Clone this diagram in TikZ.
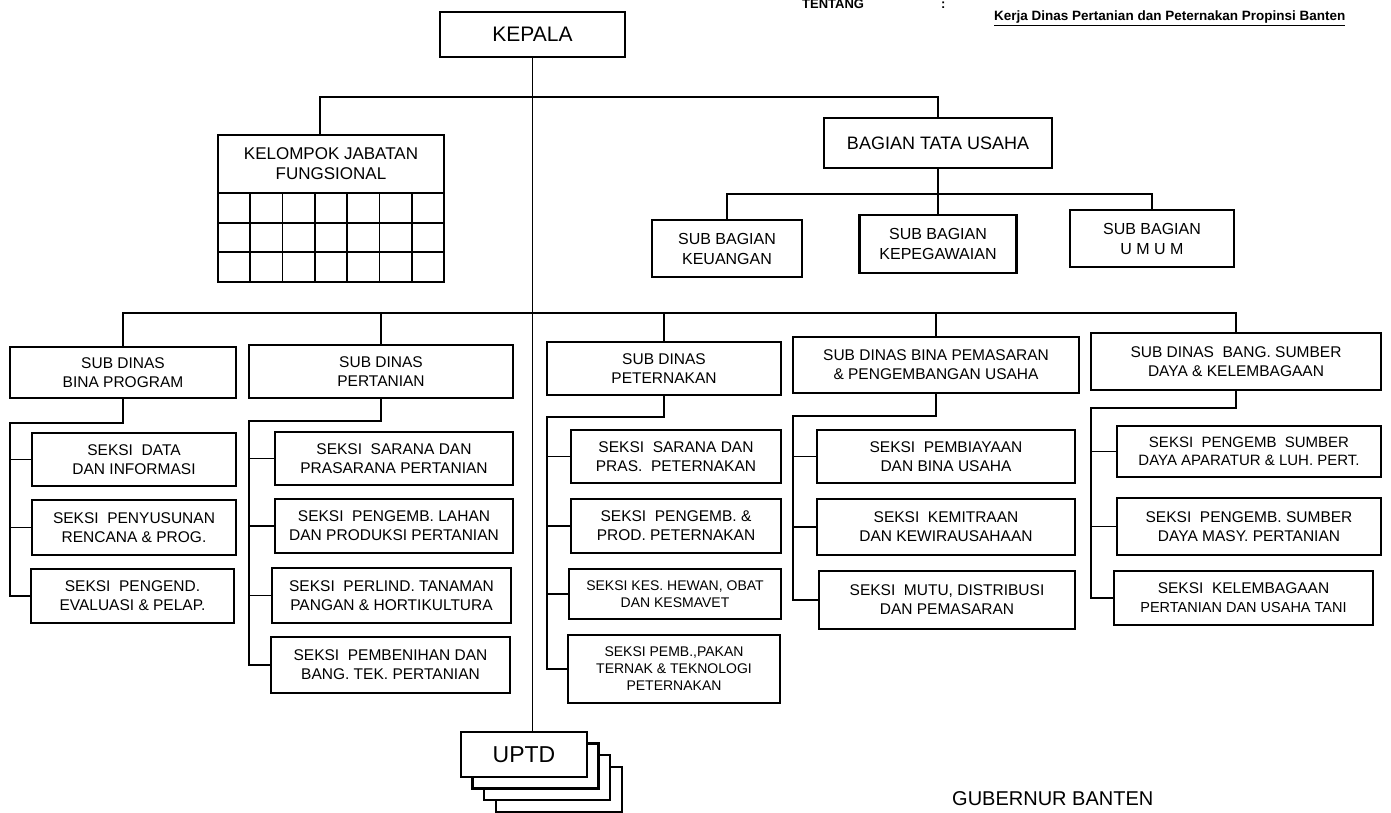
\documentclass[tikz,border=0pt]{standalone}
\usepackage{fontspec}
\setmainfont{Liberation Sans}
\usetikzlibrary{backgrounds}

\begin{document}
\begin{tikzpicture}[x=1pt,y=-1pt,
  box/.style={draw,line width=2.1pt,fill=white,align=center,inner sep=0pt,
    outer sep=0pt,font=\fontsize{15.5}{19}\selectfont},
  wh/.style 2 args={minimum width=#1,minimum height=#2},
  small/.style={font=\fontsize{14}{17}\selectfont},
  link/.style={line width=1.8pt}]
  \useasboundingbox (0,0) rectangle (1391,813);

  % header
  \node[font=\bfseries\fontsize{13}{15}\selectfont,anchor=base west,inner sep=0pt] (tentang) at (802,9) {TENTANG};
  \node[font=\bfseries\fontsize{13}{15}\selectfont,anchor=base west,inner sep=0pt] (colon) at (941,9) {:};
  \node[font=\bfseries\fontsize{13.5}{15}\selectfont,anchor=base west,inner sep=0pt] (judul) at (994,21)
    {\underline{Kerja Dinas Pertanian dan Peternakan Propinsi Banten}};

  % top
  \node[box,wh={185pt}{45pt},font=\fontsize{21}{24}\selectfont] (kepala) at (532.5,34.5) {KEPALA};
  \node[box,wh={226pt}{58pt},font=\fontsize{17}{20}\selectfont] (kjf) at (331,164) {KELOMPOK JABATAN\\FUNGSIONAL};
  \draw[line width=2.1pt] (kjf.south west) rectangle ++(226,89);
  \foreach \i in {1,...,6}
    \draw[link] ([xshift=\i*32.29pt]kjf.south west) -- ++(0,89);
  \foreach \j in {1,2}
    \draw[link] ([yshift=-\j*29.67pt]kjf.south west) -- ++(226,0);

  \node[box,wh={228pt}{50pt},font=\fontsize{18}{22}\selectfont] (btu) at (938,143) {BAGIAN TATA USAHA};
  \node[box,wh={150pt}{57pt},font=\fontsize{16}{20}\selectfont] (sbk) at (727,248.5) {SUB BAGIAN\\KEUANGAN};
  \node[box,wh={157pt}{58pt},font=\fontsize{16}{20}\selectfont] (sbp) at (938,244) {SUB BAGIAN\\KEPEGAWAIAN};
  \node[box,wh={164pt}{57pt},font=\fontsize{16}{20}\selectfont] (sbu) at (1152,238.5) {SUB BAGIAN\\U M U M};

  % sub dinas
  \node[box,wh={226pt}{51pt}] (sdbp) at (123,372.5) {SUB DINAS\\BINA PROGRAM};
  \node[box,wh={264pt}{53pt}] (sdp) at (381,371.5) {SUB DINAS\\PERTANIAN};
  \node[box,wh={234pt}{53pt}] (sdt) at (664,368.5) {SUB DINAS\\PETERNAKAN};
  \node[box,wh={286pt}{56pt}] (sdpu) at (936,365) {SUB DINAS BINA PEMASARAN\\\& PENGEMBANGAN USAHA};
  \node[box,wh={290pt}{57pt}] (sdbs) at (1236,361.5) {SUB DINAS~ BANG. SUMBER\\DAYA \& KELEMBAGAAN};

  % seksi
  \node[box,wh={204pt}{53pt}] (s11) at (134,459.5) {SEKSI~ DATA\\DAN INFORMASI};
  \node[box,wh={204pt}{55pt}] (s12) at (134,527.5) {SEKSI~ PENYUSUNAN\\RENCANA \& PROG.};
  \node[box,wh={203pt}{54pt}] (s13) at (132.5,596) {SEKSI~ PENGEND.\\EVALUASI \& PELAP.};

  \node[box,wh={238pt}{53pt}] (s21) at (394,458.5) {SEKSI~ SARANA DAN\\PRASARANA PERTANIAN};
  \node[box,wh={238pt}{54pt}] (s22) at (394,526) {SEKSI~ PENGEMB. LAHAN\\DAN PRODUKSI PERTANIAN};
  \node[box,wh={239pt}{55pt}] (s23) at (391.5,595.5) {SEKSI~ PERLIND. TANAMAN\\PANGAN \& HORTIKULTURA};
  \node[box,wh={239pt}{56pt}] (s24) at (390.5,665) {SEKSI~ PEMBENIHAN DAN\\BANG. TEK. PERTANIAN};

  \node[box,wh={210pt}{53pt}] (s31) at (676,456.5) {SEKSI~ SARANA DAN\\PRAS.~ PETERNAKAN};
  \node[box,wh={210pt}{54pt}] (s32) at (676,526) {SEKSI~ PENGEMB. \&\\PROD. PETERNAKAN};
  \node[box,small,wh={212pt}{50pt}] (s33) at (675,594) {SEKSI KES. HEWAN, OBAT\\DAN KESMAVET};
  \node[box,small,wh={212pt}{68pt}] (s34) at (674,669) {SEKSI PEMB.,PAKAN\\TERNAK \& TEKNOLOGI\\PETERNAKAN};

  \node[box,wh={258pt}{53pt}] (s41) at (946,456.5) {SEKSI~ PEMBIAYAAN\\DAN BINA USAHA};
  \node[box,wh={258pt}{56pt}] (s42) at (946,527) {SEKSI~ KEMITRAAN\\DAN KEWIRAUSAHAAN};
  \node[box,wh={256pt}{58pt}] (s43) at (947,600) {SEKSI~ MUTU, DISTRIBUSI\\DAN PEMASARAN};

  \node[box,font=\fontsize{15}{18}\selectfont,wh={264pt}{51pt}] (s51) at (1249,451.5) {SEKSI~ PENGEMB~ SUMBER\\DAYA APARATUR \& LUH. PERT.};
  \node[box,wh={264pt}{57pt}] (s52) at (1249,526.5) {SEKSI~ PENGEMB. SUMBER\\DAYA MASY. PERTANIAN};
  \node[box,wh={259pt}{54pt}] (s53) at (1243.5,598) {SEKSI~ KELEMBAGAAN\\{\fontsize{14.5}{16}\selectfont PERTANIAN DAN USAHA TANI}};

  % uptd
  \node[box,wh={126pt}{45pt},font=\fontsize{23}{27}\selectfont] (uptd) at (524,754.5) {UPTD};
  \begin{scope}[on background layer]
    \foreach \d in {35,23,11.5}
      \draw[line width=2.1pt,fill=white] ([shift={(\d,\d)}]uptd.north west) rectangle ([shift={(\d,\d)}]uptd.south east);
  \end{scope}

  \node[font=\fontsize{20}{23}\selectfont,anchor=base west,inner sep=0pt] (gub) at (952,805) {GUBERNUR BANTEN};

  % lines
  \coordinate (topbar) at (0,97);
  \coordinate (tubar) at (0,194);
  \coordinate (dinasbar) at (0,313);

  \draw[link] (kepala.south) -- (kepala.south |- uptd.north);
  \draw[link] ([xshift=-11pt]kjf.north) |- (topbar -| btu.north) -- (btu.north);
  \draw[link] (btu.south) -- (sbp.north);
  \draw[link] (sbk.north) |- (tubar -| sbu.north) -- (sbu.north);
  \draw[link] (sdbp.north) |- (dinasbar -| sdbs.north) -- (sdbs.north);
  \foreach \n in {sdp,sdt,sdpu}
    \draw[link] (\n.north) -- (dinasbar -| \n.north);

  \foreach \sd/\last/\dn in {sdbp/s13/25,sdp/s24/23,sdt/s34/22,sdpu/s43/23,sdbs/s53/18}
    \draw[link] (\sd.south) -- ++(0,\dn) -| (\sd.south west |- \last.west) -- (\last.west);
  \foreach \s/\sd in {s11/sdbp,s12/sdbp,s21/sdp,s22/sdp,s23/sdp,s31/sdt,s32/sdt,s33/sdt,
      s41/sdpu,s42/sdpu,s51/sdbs,s52/sdbs}
    \draw[link] (\s.west) -- (\s.west -| \sd.south west);

\end{tikzpicture}
\end{document}
